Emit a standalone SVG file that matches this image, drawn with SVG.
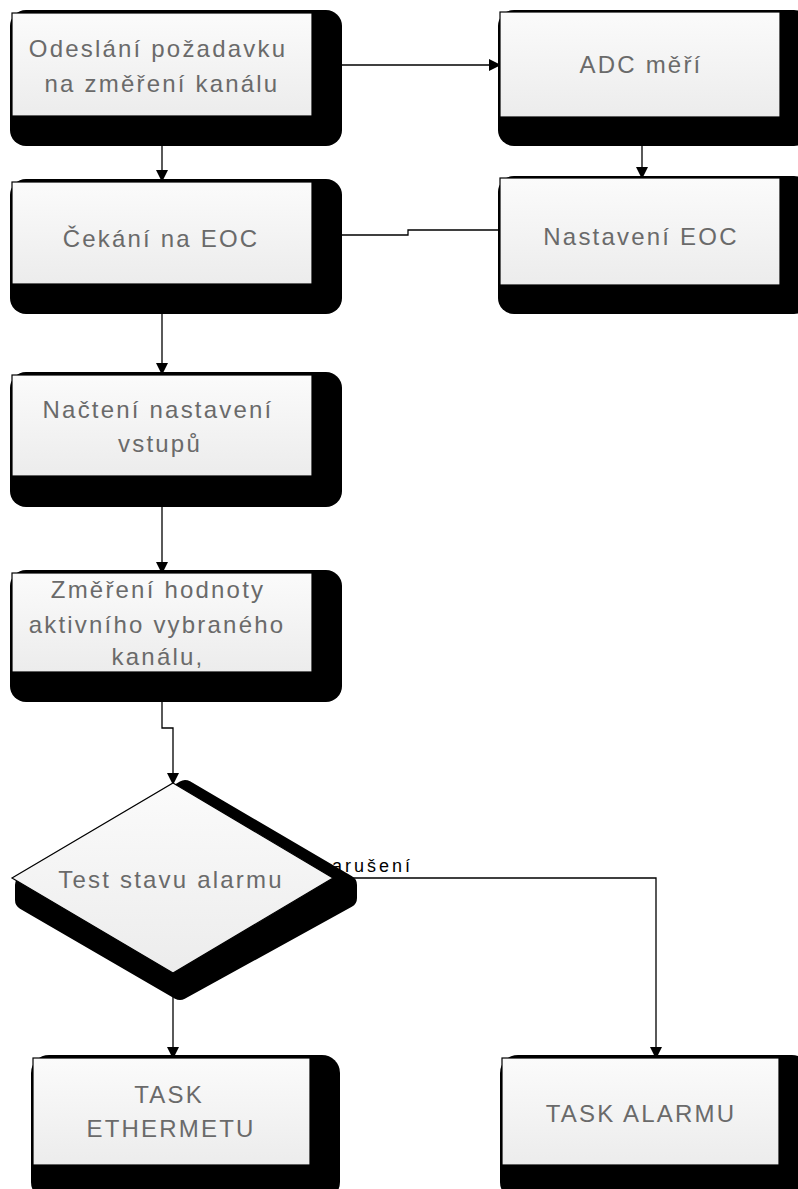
<svg xmlns="http://www.w3.org/2000/svg" width="798" height="1189" viewBox="0 0 798 1189">
<style>
.sh{fill:#000}
.bx{fill:url(#g);stroke:#000;stroke-width:1.2}
.t{font-family:"Liberation Sans",Arial,sans-serif;font-size:24px;fill:#6a6a6a;letter-spacing:2.2px;text-anchor:middle}
.c{fill:none;stroke:#000;stroke-width:1.3}
.lb{font-family:"Liberation Sans",Arial,sans-serif;font-size:18px;fill:#000;letter-spacing:3px}
</style>
<defs>
<linearGradient id="g" x1="0" y1="0" x2="0" y2="1">
<stop offset="0" stop-color="#fbfbfb"/>
<stop offset="1" stop-color="#ececec"/>
</linearGradient>
<marker id="a" markerWidth="12" markerHeight="12" refX="11" refY="6" orient="auto" markerUnits="userSpaceOnUse">
<path d="M0,0 L12,6 L0,12 Z" fill="#000"/>
</marker>
</defs>
<rect width="798" height="1189" fill="#fff"/>
<g id="connectors">
<path class="c" d="M162,146 V181" marker-end="url(#a)"/>
<path class="c" d="M342,65 H500" marker-end="url(#a)"/>
<path class="c" d="M642,146 V178" marker-end="url(#a)"/>
<path class="c" d="M342,235 H408 V230 H500"/>
<path class="c" d="M162,314 V374" marker-end="url(#a)"/>
<path class="c" d="M162,507 V573" marker-end="url(#a)"/>
<path class="c" d="M162,702 V728 H173 V784" marker-end="url(#a)"/>
<path class="c" d="M333,878 H656 V1058" marker-end="url(#a)"/>
<path class="c" d="M173,990 V1058" marker-end="url(#a)"/>
<text class="lb" x="319" y="872">narušení</text>
</g>
<g id="n1">
<rect class="sh" x="10" y="10" width="332" height="136" rx="16"/>
<rect class="bx" x="12" y="13" width="300" height="103"/>
<text class="t" x="158" y="57">Odeslání požadavku</text>
<text class="t" x="162" y="92">na změření kanálu</text>
</g>
<g id="n2">
<rect class="sh" x="10" y="179" width="332" height="135" rx="16"/>
<rect class="bx" x="12" y="182" width="300" height="102"/>
<text class="t" x="161" y="247">Čekání na EOC</text>
</g>
<g id="n3">
<rect class="sh" x="498" y="10" width="312" height="136" rx="16"/>
<rect class="bx" x="500" y="12" width="280" height="105"/>
<text class="t" x="641" y="73">ADC měří</text>
</g>
<g id="n4">
<rect class="sh" x="498" y="176" width="312" height="138" rx="16"/>
<rect class="bx" x="500" y="178" width="280" height="107"/>
<text class="t" x="641" y="245">Nastavení EOC</text>
</g>
<g id="n5">
<rect class="sh" x="10" y="372" width="332" height="135" rx="16"/>
<rect class="bx" x="12" y="375" width="300" height="101"/>
<text class="t" x="158" y="418">Načtení nastavení</text>
<text class="t" x="160" y="452">vstupů</text>
</g>
<g id="n6">
<rect class="sh" x="10" y="570" width="332" height="132" rx="16"/>
<rect class="bx" x="12" y="573" width="300" height="99"/>
<text class="t" x="158" y="598">Změření hodnoty</text>
<text class="t" x="157" y="633">aktivního vybraného</text>
<text class="t" x="158" y="665">kanálu,</text>
</g>
<g id="n7">
<path d="M185,790 L347,885 L347,898 L180,990 L25,900 L25,885 Z" fill="#000" stroke="#000" stroke-width="20" stroke-linejoin="round"/>
<path class="bx" d="M173,783 L333,878 L173,973 L12,878 Z"/>
<text class="t" x="171" y="888">Test stavu alarmu</text>
</g>
<g id="n8">
<rect class="sh" x="31" y="1055" width="309" height="145" rx="18"/>
<rect class="bx" x="33" y="1058" width="277" height="107"/>
<text class="t" x="169" y="1103">TASK</text>
<text class="t" x="171" y="1137">ETHERMETU</text>
</g>
<g id="n9">
<rect class="sh" x="500" y="1055" width="310" height="145" rx="18"/>
<rect class="bx" x="502" y="1058" width="277" height="107"/>
<text class="t" x="641" y="1122">TASK ALARMU</text>
</g>
</svg>
